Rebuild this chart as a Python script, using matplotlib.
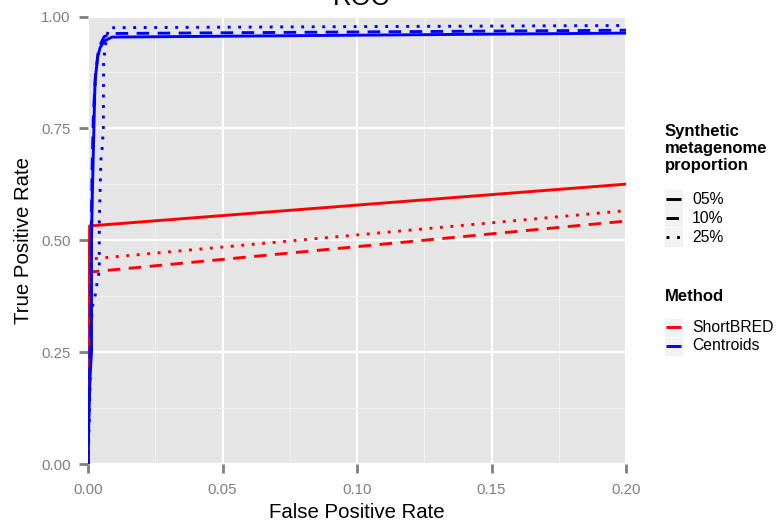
import matplotlib
matplotlib.use('Agg')
import matplotlib.pyplot as plt
from matplotlib.lines import Line2D
from matplotlib.patches import Rectangle
from matplotlib.ticker import MultipleLocator

plt.rcParams['font.family'] = ['Liberation Sans', 'DejaVu Sans']

# ROC points (FPR, TPR); each curve ends at (1, 1)
sb05_fpr = [0, 0.0001, 0.0002, 0.0003, 0.0004, 0.0005, 0.0006, 1.0]
sb05_tpr = [0, 0.08, 0.16, 0.26, 0.36, 0.45, 0.532, 1.0]
sb10_fpr = [0, 0.0001, 0.0003, 0.0004, 0.0006, 0.0007, 1.0]
sb10_tpr = [0, 0.10, 0.20, 0.28, 0.37, 0.429, 1.0]
sb25_fpr = [0, 0.0002, 0.0003, 0.0005, 0.0006, 0.0007, 1.0]
sb25_tpr = [0, 0.12, 0.22, 0.31, 0.40, 0.458, 1.0]

ce05_fpr = [0, 0.0003, 0.0008, 0.0013, 0.0013, 0.0016, 0.0022, 0.0025, 0.0027,
            0.0036, 0.0045, 0.006, 0.0089, 1.0]
ce05_tpr = [0, 0.10, 0.20, 0.25, 0.50, 0.60, 0.75, 0.83, 0.86,
            0.91, 0.93, 0.945, 0.954, 1.0]
ce10_fpr = [0, 0.0004, 0.001, 0.0012, 0.0015, 0.002, 0.0028, 0.004, 0.006, 0.009, 1.0]
ce10_tpr = [0, 0.15, 0.30, 0.50, 0.65, 0.78, 0.87, 0.93, 0.955, 0.962, 1.0]
ce25_fpr = [0, 0.0005, 0.001, 0.0015, 0.0025, 0.0035, 0.0042, 0.0042, 0.0048,
            0.0052, 0.0057, 0.0058, 0.0068, 0.0078, 1.0]
ce25_tpr = [0, 0.10, 0.25, 0.35, 0.37, 0.41, 0.43, 0.54, 0.68,
            0.70, 0.75, 0.90, 0.95, 0.975, 1.0]

proportions = ['05%', '10%', '25%']
methods = ['ShortBRED', 'Centroids']
method_colors = {'ShortBRED': '#FF0000', 'Centroids': '#0000FF'}
dash_styles = {'05%': (None, None), '10%': (4.3, 2.9), '25%': (1.0, 2.6)}

curves = [
    ('ShortBRED', '05%', sb05_fpr, sb05_tpr),
    ('ShortBRED', '10%', sb10_fpr, sb10_tpr),
    ('ShortBRED', '25%', sb25_fpr, sb25_tpr),
    ('Centroids', '05%', ce05_fpr, ce05_tpr),
    ('Centroids', '10%', ce10_fpr, ce10_tpr),
    ('Centroids', '25%', ce25_fpr, ce25_tpr),
]

W, H = 776, 523
fig = plt.figure(figsize=(W / 100, H / 100), dpi=100)
ax = fig.add_axes([88 / W, 1 - 464 / H, (626 - 88) / W, (464 - 16.5) / H])
ax.set_facecolor('#E5E5E5')

for m, p, x, y in curves:
    ln, = ax.plot(x, y, color=method_colors[m], lw=2.1, solid_capstyle='butt',
                  dash_capstyle='butt')
    if dash_styles[p][0] is not None:
        ln.set_dashes(dash_styles[p])

ax.set_xlim(0, 0.2)
ax.set_ylim(0, 1)
ax.xaxis.set_major_locator(MultipleLocator(0.05))
ax.xaxis.set_minor_locator(MultipleLocator(0.025))
ax.yaxis.set_major_locator(MultipleLocator(0.25))
ax.yaxis.set_minor_locator(MultipleLocator(0.125))
ax.set_xticklabels(['%.2f' % v for v in ax.get_xticks()])
ax.set_yticklabels(['%.2f' % v for v in ax.get_yticks()])
ax.grid(which='major', color='white', lw=1.6)
ax.grid(which='minor', color='#F2F2F2', lw=0.8)
ax.set_axisbelow(True)
for s in ax.spines.values():
    s.set_visible(False)
ax.tick_params(which='major', length=6.5, width=2, color='#7F7F7F',
               labelcolor='#7F7F7F', labelsize=10.8)
ax.tick_params(axis='x', pad=7.5)
ax.tick_params(axis='y', pad=6)
ax.tick_params(which='minor', length=0)

ax.set_xlabel('False Positive Rate', fontsize=14.7, labelpad=4)
ax.set_ylabel('True Positive Rate', fontsize=14.7, labelpad=6)
fig.text(361 / W, 1 - 5 / H, 'ROC', ha='center', va='baseline', fontsize=18.5)


def fx(px):
    return px / W


def fy(py):
    return 1 - py / H


# legend: line type
for i, line in enumerate(['Synthetic', 'metagenome', 'proportion']):
    fig.text(fx(665), fy(136 + 17 * i), line, fontsize=12, fontweight='bold',
             va='baseline', ha='left')
for i, p in enumerate(proportions):
    yc = 199 + 19 * i
    fig.patches.append(Rectangle((fx(665), fy(yc + 8.5)), 17 / W, 17 / H,
                                 transform=fig.transFigure, color='#F2F2F2'))
    key = Line2D([fx(666), fx(681)], [fy(yc), fy(yc)], transform=fig.transFigure,
                 color='black', lw=2.1, solid_capstyle='butt', dash_capstyle='butt')
    if dash_styles[p][0] is not None:
        key.set_dashes(dash_styles[p])
    fig.lines.append(key)
    fig.text(fx(692), fy(yc), p, fontsize=11.3, va='center', ha='left')

# legend: method colour
fig.text(fx(665), fy(301), 'Method', fontsize=12, fontweight='bold',
         va='baseline', ha='left')
for i, m in enumerate(methods):
    yc = 327 + 19 * i
    fig.patches.append(Rectangle((fx(665), fy(yc + 8.5)), 17 / W, 17 / H,
                                 transform=fig.transFigure, color='#F2F2F2'))
    fig.lines.append(Line2D([fx(666), fx(681)], [fy(yc), fy(yc)],
                            transform=fig.transFigure, color=method_colors[m],
                            lw=2.1, solid_capstyle='butt'))
    fig.text(fx(692), fy(yc), m, fontsize=11.3, va='center', ha='left')

fig.savefig('out.png', dpi=100)
